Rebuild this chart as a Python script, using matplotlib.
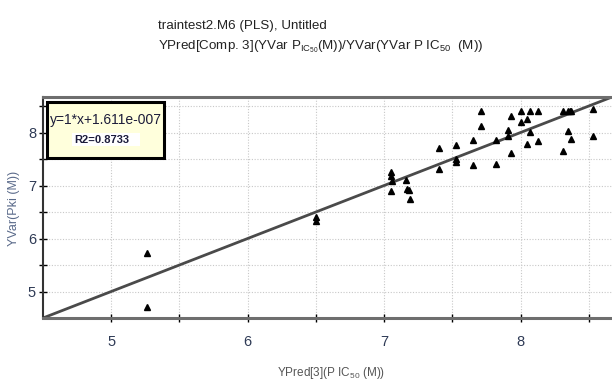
import matplotlib
matplotlib.use("Agg")
import matplotlib.pyplot as plt
import numpy as np
from matplotlib.patches import FancyBboxPatch

plt.rcParams.update({"font.family": ["Liberation Sans", "DejaVu Sans"],
                     "mathtext.fontset": "custom",
                     "mathtext.rm": "Liberation Sans",
                     "mathtext.it": "Liberation Sans"})

# predicted (x) vs observed (y) pIC50
x_pred = [5.26, 5.26, 6.50, 6.50,
          7.05, 7.05, 7.06, 7.05, 7.16, 7.17, 7.18, 7.19,
          7.40, 7.40, 7.53, 7.53, 7.53, 7.65, 7.65, 7.71, 7.71,
          7.82, 7.82, 7.91, 7.91, 7.93, 7.93, 8.00, 8.00, 8.05, 8.05,
          8.07, 8.07, 8.13, 8.13, 8.31, 8.31, 8.35, 8.36, 8.37, 8.35, 8.37,
          8.53, 8.53]
y_obs = [5.72, 4.70, 6.33, 6.40,
         7.25, 7.17, 7.09, 6.89, 7.11, 6.94, 6.91, 6.75,
         7.71, 7.31, 7.77, 7.50, 7.44, 7.86, 7.38, 8.41, 8.13,
         7.85, 7.40, 8.04, 7.94, 8.32, 7.61, 8.41, 8.19, 8.26, 7.79,
         8.41, 8.01, 8.41, 7.84, 8.41, 7.66, 8.41, 8.41, 8.41, 8.03, 7.88,
         8.44, 7.94]
slope, intercept = 1.0, 1.611e-007
r2 = 0.8733

lo, hi = 4.5, 8.67

fig = plt.figure(figsize=(6.12, 3.85), dpi=100)
ax = fig.add_axes([43/612, 1 - 318/385, (612 - 43)/612, (318 - 97)/385])
ax.set_xlim(lo, hi); ax.set_ylim(lo, hi)

xl = np.array([lo, hi])
ax.plot(xl, slope * xl + intercept, color="#4a4a4a", lw=2.0, zorder=2)
ax.plot(x_pred, y_obs, linestyle="none", marker="^", color="black", ms=5, zorder=3)

ax.set_xticks([5, 6, 7, 8]); ax.set_yticks([5, 6, 7, 8])
ax.set_xticks(np.arange(5.5, 8.6, 1.0), minor=True)
ax.set_yticks(np.arange(5.5, 8.6, 1.0), minor=True)
ax.grid(True, which="both", color="#c8c8c8", ls=(0, (1, 1.5)), lw=0.8)
ax.tick_params(which="both", direction="inout", length=6, width=1, color="black",
               labelsize=10.5, labelcolor="#2e3a55", pad=2)
ax.tick_params(axis="x", pad=9)
for s in ["top", "bottom"]:
    ax.spines[s].set_color("#6e6e6e"); ax.spines[s].set_linewidth(2.2)
ax.spines["left"].set_color("#333333"); ax.spines["left"].set_linewidth(1.5)
ax.spines["right"].set_visible(False)

ax.set_xlabel(r"YPred[3](P IC$_{50}$ (M))", fontsize=8.5, color="#555555")
ax.xaxis.set_label_coords((331 - 43)/569, (318 - 365)/221)
ax.set_ylabel("YVar(Pki (M))", fontsize=9, color="#5a6a8a")
ax.yaxis.set_label_coords((20 - 43)/569, (318 - 208)/221)

# equation box
fig.patches.append(FancyBboxPatch((47/612, 1 - 158/385), (164 - 47)/612, (158 - 102)/385,
                                  boxstyle="square,pad=0", transform=fig.transFigure,
                                  fc="#ffffdc", ec="black", lw=2.2, zorder=5))
fig.patches.append(FancyBboxPatch((72/612, 1 - 146/385), (140 - 72)/612, (146 - 133)/385,
                                  boxstyle="square,pad=0", transform=fig.transFigure,
                                  fc="white", ec="none", zorder=6))
fig.text(50/612, 1 - 120/385, f"y={slope:g}*x+1.611e-007", fontsize=10, color="#1c1c3a",
         va="center", ha="left", zorder=7)
fig.text(74/612, 1 - 140/385, f"R2={r2}", fontsize=8, color="#1c1c3a", weight="bold",
         va="center", ha="left", zorder=7)

fig.text(158/612, 1 - 26/385, "traintest2.M6 (PLS), Untitled", fontsize=9.6, color="#222222",
         va="center", ha="left")
fig.text(158/612, 1 - 47/385,
         r"YPred[Comp. 3](YVar P$_{IC_{50}}$(M))/YVar(YVar P IC$_{50}$  (M))",
         fontsize=9.6, color="#222222", va="center", ha="left")

fig.savefig("out.png", dpi=100)
